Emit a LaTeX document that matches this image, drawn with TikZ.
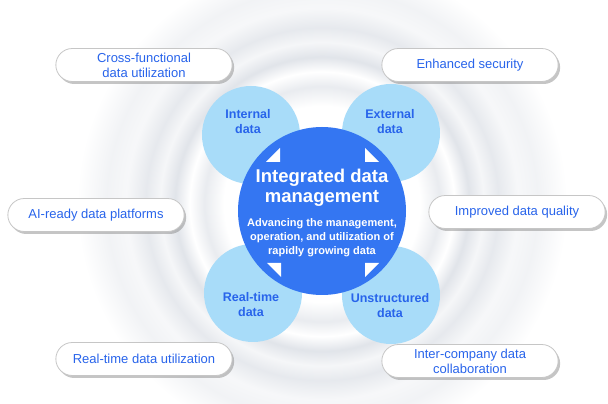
\documentclass[tikz,border=0pt]{standalone}
\usepackage{fontspec}
\setmainfont{Liberation Sans}
\usetikzlibrary{shapes.misc, shadows}

\definecolor{textblue}{RGB}{40,100,235}
\definecolor{hubblue}{RGB}{52,118,242}
\definecolor{satblue}{RGB}{168,220,249}
\definecolor{ringgray}{RGB}{200,206,216}

% silvery rings behind the hub
\pgfdeclareradialshading{rings}{\pgfpoint{0bp}{0bp}}{%
  color(0bp)=(white); color(10bp)=(white);
  color(12bp)=(ringgray!40); color(13.5bp)=(white);
  color(15bp)=(ringgray!55); color(16.5bp)=(ringgray!18);
  color(18bp)=(ringgray!45); color(20bp)=(ringgray!15);
  color(22bp)=(ringgray!25); color(25bp)=(white); color(50bp)=(white)}

\tikzstyle{goal} = [rounded rectangle, minimum width=183pt, minimum height=33pt, text centered, align=center, draw=gray!45, line width=0.8pt, fill=white, text=textblue, font=\fontsize{13}{15}\selectfont, drop shadow={shadow xshift=2pt, shadow yshift=-2.5pt, fill=gray, opacity=0.45}]
\tikzstyle{sat} = [circle, minimum size=98pt, fill=satblue]
\tikzstyle{satlabel} = [align=center, text=textblue, font=\bfseries\fontsize{12.5}{15}\selectfont]
\tikzstyle{hub} = [circle, minimum size=168pt, fill=hubblue]
\tikzstyle{tip} = [fill=white]

\begin{document}
\begin{tikzpicture}[x=1pt, y=1pt]
        \useasboundingbox (0,0) rectangle (608,404);
        \fill[white] (0,0) rectangle (608,404);
        \shade[shading=rings] (322,200) circle (245);
        % four data sources round the hub
        \node (sat1) [sat] at (251,269) {};
        \node (sat2) [sat] at (391,271) {};
        \node (sat3) [sat] at (253,111) {};
        \node (sat4) [sat] at (391,109) {};
        \node (hub) [hub] at (322,193) {};
        \node (lab1) [satlabel] at (248,282) {Internal\\data};
        \node (lab2) [satlabel] at (390,282) {External\\data};
        \node (lab3) [satlabel] at (251,99) {Real-time\\data};
        \node (lab4) [satlabel] at (390,98) {Unstructured\\data};
        % hub texts
        \node (title) [align=center, text=white, font=\bfseries\fontsize{18.5}{19.5}\selectfont] at (322,216) {Integrated data\\management};
        \node (sub) [align=center, text=white, font=\bfseries\fontsize{11}{14}\selectfont] at (322,166) {Advancing the management,\\operation, and utilization of\\rapidly growing data};
        % corner tips
        \fill[tip] (280,256) -- (266,242) -- (280,242) -- cycle;
        \fill[tip] (365,256) -- (365,242) -- (379,242) -- cycle;
        \fill[tip] (267,141) -- (281,141) -- (281,127) -- cycle;
        \fill[tip] (365,141) -- (379,141) -- (365,127) -- cycle;
        % outcomes
        \node (goal1) [goal] at (144,339) {Cross-functional\\data utilization};
        \node (goal2) [goal] at (470,339) {Enhanced security};
        \node (goal3) [goal] at (96,189) {AI-ready data platforms};
        \node (goal4) [goal] at (517,192) {Improved data quality};
        \node (goal5) [goal] at (144,45) {Real-time data utilization};
        \node (goal6) [goal] at (470,43) {Inter-company data\\collaboration};
      \end{tikzpicture}
\end{document}
